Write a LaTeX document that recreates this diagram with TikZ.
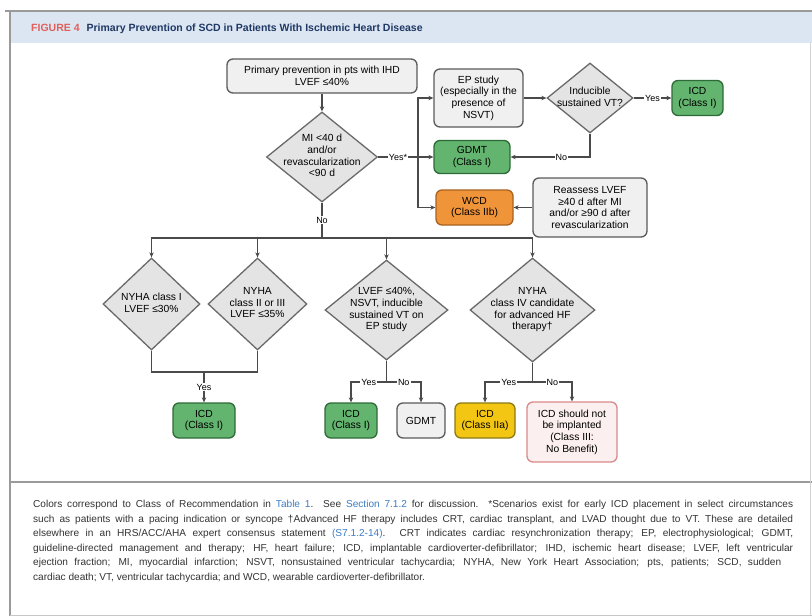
\documentclass[tikz,border=0pt]{standalone}
\usepackage{fontspec}
\setmainfont{Liberation Sans}
\usetikzlibrary{arrows.meta,shapes.geometric}
\definecolor{linec}{HTML}{4A4A4A}
\definecolor{boxborder}{HTML}{5A5A5A}
\definecolor{boxfill}{HTML}{F0F0F0}
\definecolor{diaborder}{HTML}{6A6A6A}
\definecolor{diafill}{HTML}{E4E4E4}
\definecolor{gfill}{HTML}{62B46E}
\definecolor{gborder}{HTML}{2E6B38}
\definecolor{ofill}{HTML}{F0943A}
\definecolor{oborder}{HTML}{A8621E}
\definecolor{yfill}{HTML}{F3C614}
\definecolor{yborder}{HTML}{8C7A12}
\definecolor{pfill}{HTML}{FCEFEF}
\definecolor{pborder}{HTML}{D9898A}
\definecolor{bandc}{HTML}{DCE6F2}
\definecolor{figred}{HTML}{E0605A}
\definecolor{navyc}{HTML}{1F3864}
\definecolor{linkblue}{HTML}{3C7DC4}
\definecolor{captext}{HTML}{333333}
\definecolor{framec}{HTML}{9A9A9A}
\newcommand{\dtx}[1]{\makebox[0pt]{\smash{\raisebox{-0.25em}{\begin{tabular}{@{}c@{}}#1\end{tabular}}}}}
\newcommand{\lnk}[1]{\textcolor{linkblue}{#1}}
\begin{document}
\begin{tikzpicture}[x=1pt,y=-1pt,
  every node/.style={font=\fontsize{10.3}{11.6}\selectfont, text=black},
  conn/.style={draw=linec, line width=1.1pt},
  arr/.style={conn, -{Stealth[length=5pt,width=4.5pt]}},
  rbox/.style={rectangle, rounded corners=6pt, draw=boxborder, fill=boxfill, line width=1.3pt, inner sep=0pt, align=center},
  gbox/.style={rbox, draw=gborder, fill=gfill},
  obox/.style={rbox, draw=oborder, fill=ofill},
  ybox/.style={rbox, draw=yborder, fill=yfill},
  pbox/.style={rbox, draw=pborder, fill=pfill},
  dia/.style={diamond, draw=diaborder, fill=diafill, line width=1.3pt, inner sep=0pt},
  lbl/.style={fill=white, inner sep=1pt, font=\fontsize{9}{10}\selectfont},
  capline/.style={anchor=base west, inner sep=0pt, text=captext, font=\fontsize{10.1}{11}\selectfont},
]
\useasboundingbox (0,0) rectangle (812,616);
\fill[white] (0,0) rectangle (812,616);
% frame
\fill[bandc] (10,11) rectangle (812,43);
\draw[framec, line width=1.5pt] (5,11) -- (812,11);
\draw[framec, line width=2.5pt] (10,11) -- (10,616);
\draw[framec, line width=2pt] (10,482) -- (812,482);
\draw[gray!35, line width=1pt] (810,43) -- (810,616);
\draw[gray!45, line width=1pt] (10,615) -- (812,615);
% title
\node[anchor=base west, inner sep=0pt, font=\bfseries\fontsize{10.5}{12}\selectfont] (title) at (31,31.5)
  {\textcolor{figred}{FIGURE 4}\hspace{7pt}\textcolor{navyc}{Primary Prevention of SCD in Patients With Ischemic Heart Disease}};

% nodes
\node[rbox, minimum width=190pt, minimum height=34pt] (top) at (322,76) {Primary prevention in pts with IHD\\LVEF ≤40\%};
\node[dia, minimum width=111pt, minimum height=90pt] (d1) at (322,157) {\dtx{MI <40 d\\and/or\\revascularization\\<90 d}};
\node[rbox, minimum width=89pt, minimum height=58pt] (ep) at (478.5,98) {EP study\\(especially in the\\presence of\\NSVT)};
\node[dia, minimum width=86pt, minimum height=70pt] (ind) at (590,98) {\dtx{Inducible\\sustained VT?}};
\node[gbox, minimum width=51pt, minimum height=35pt] (icd0) at (697.5,98) {ICD\\(Class I)};
\node[gbox, minimum width=76pt, minimum height=33pt] (gdmt1) at (472,157) {GDMT\\(Class I)};
\node[obox, minimum width=77pt, minimum height=35pt] (wcd) at (474.5,207.5) {WCD\\(Class IIb)};
\node[rbox, minimum width=114pt, minimum height=59pt] (reas) at (590,207.5) {Reassess LVEF\\≥40 d after MI\\and/or ≥90 d after\\revascularization};

\node[dia, minimum width=97pt, minimum height=92pt] (da) at (151.5,304) {\dtx{NYHA class I\\LVEF ≤30\%}};
\node[dia, minimum width=99pt, minimum height=92pt] (db) at (257.5,304) {\dtx{NYHA\\class II or III\\LVEF ≤35\%}};
\node[dia, minimum width=123pt, minimum height=100pt] (dc) at (386.5,310) {\dtx{LVEF ≤40\%,\\NSVT, inducible\\sustained VT on\\EP study}};
\node[dia, minimum width=125pt, minimum height=104pt] (dd) at (532.5,310) {\dtx{NYHA\\class IV candidate\\for advanced HF\\therapy†}};

\node[gbox, minimum width=62pt, minimum height=35pt] (icdA) at (204,420.5) {ICD\\(Class I)};
\node[gbox, minimum width=52pt, minimum height=35pt] (icdB) at (351,420.5) {ICD\\(Class I)};
\node[rbox, minimum width=48pt, minimum height=35pt] (gdmt2) at (421,420.5) {GDMT};
\node[ybox, minimum width=60pt, minimum height=35pt] (icdC) at (485,420.5) {ICD\\(Class IIa)};
\node[pbox, minimum width=90pt, minimum height=60pt] (nob) at (572,432) {ICD should not\\be implanted\\(Class III:\\No Benefit)};

% connectors
\draw[arr] (top.south) -- (d1.north);
\coordinate (tr) at (418,157);
\draw[conn] (d1.east) -- node[lbl]{Yes*} (tr);
\draw[arr] (tr) |- (ep.west);
\draw[arr] (tr) -- (gdmt1.west);
\draw[arr] (tr) |- (wcd.west);
\draw[arr] (ep.east) -- (ind.west);
\draw[arr] (ind.east) -- node[lbl]{Yes} (icd0.west);
\draw[arr] (ind.south) |- node[lbl,pos=0.68]{No} (gdmt1.east);
\draw[arr] (reas.west) -- (wcd.east);

\coordinate (h) at (322,238);
\draw[conn] (d1.south) -- node[lbl]{No} (h);
\draw[arr] (h) -| (da.north);
\draw[arr] (h) -| (db.north);
\draw[arr] (h) -| (dc.north);
\draw[arr] (h) -| (dd.north);

\coordinate (j) at (204,372);
\draw[conn] (da.south) |- (j);
\draw[conn] (db.south) |- (j);
\draw[arr] (j) -- node[lbl]{Yes} (icdA.north);

\coordinate (sc) at (386.5,382);
\draw[conn] (dc.south) -- (sc);
\draw[arr] (sc) -| node[lbl,pos=0.25]{Yes} (icdB.north);
\draw[arr] (sc) -| node[lbl,pos=0.25]{No} (gdmt2.north);

\coordinate (sd) at (532.5,382);
\draw[conn] (dd.south) -- (sd);
\draw[arr] (sd) -| node[lbl,pos=0.25]{Yes} (icdC.north);
\draw[arr] (sd) -| node[lbl,pos=0.25]{No} (nob.north);

% caption
\node[capline] (c1) at (33,507.5) {\makebox[760pt][s]{Colors correspond to Class of Recommendation in \lnk{Table 1}. See \lnk{Section 7.1.2} for discussion. *Scenarios exist for early ICD placement in select circumstances}};
\node[capline] (c2) at (33,522) {\makebox[760pt][s]{such as patients with a pacing indication or syncope †Advanced HF therapy includes CRT, cardiac transplant, and LVAD thought due to VT. These are detailed}};
\node[capline] (c3) at (33,536.5) {\makebox[760pt][s]{elsewhere in an HRS/ACC/AHA expert consensus statement \lnk{(S7.1.2-14)}. CRT indicates cardiac resynchronization therapy; EP, electrophysiological; GDMT,}};
\node[capline] (c4) at (33,551) {\makebox[760pt][s]{guideline-directed management and therapy; HF, heart failure; ICD, implantable cardioverter-defibrillator; IHD, ischemic heart disease; LVEF, left ventricular}};
\node[capline] (c5) at (33,565.5) {\makebox[748pt][s]{ejection fraction; MI, myocardial infarction; NSVT, nonsustained ventricular tachycardia; NYHA, New York Heart Association; pts, patients; SCD, sudden}};
\node[capline] (c6) at (33,580) {cardiac death; VT, ventricular tachycardia; and WCD, wearable cardioverter-defibrillator.};
\end{tikzpicture}
\end{document}
